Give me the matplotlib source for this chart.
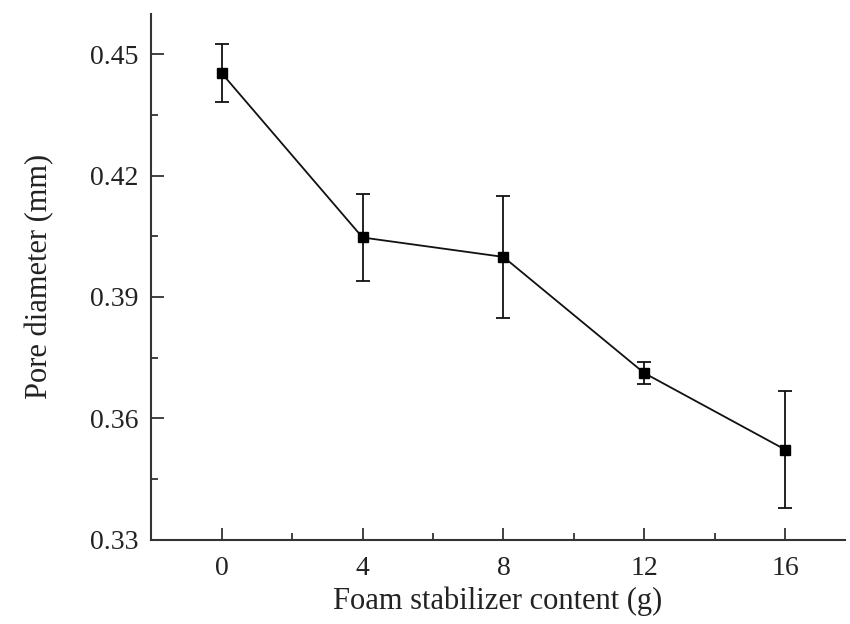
import numpy as np
import matplotlib.pyplot as plt
from matplotlib.ticker import MultipleLocator

content = [0, 4, 8, 12, 16]
pore_diameter = [0.4453, 0.4047, 0.3999, 0.3712, 0.3523]
pore_err = [0.0071, 0.0107, 0.0151, 0.0028, 0.0145]

plt.rcParams['font.family'] = ['Liberation Serif', 'DejaVu Serif']

fig = plt.figure(figsize=(8.5, 6.24), dpi=100)
ax = fig.add_axes([0.178, 0.135, 0.816, 0.843])

ax.errorbar(content, pore_diameter, yerr=pore_err, color='#111111', lw=1.3,
            marker='s', ms=7, mfc='black', mec='black',
            elinewidth=1.3, capsize=5, capthick=1.3)

ax.set_xlim(-2, 17.7)
ax.set_ylim(0.33, 0.46)
ax.set_xticks(content)
ax.set_yticks([0.33, 0.36, 0.39, 0.42, 0.45])
ax.xaxis.set_minor_locator(MultipleLocator(2))
ax.yaxis.set_minor_locator(MultipleLocator(0.015))
ax.set_yticklabels(['0.33', '0.36', '0.39', '0.42', '0.45'])

for s in ['top', 'right']:
    ax.spines[s].set_visible(False)
for s in ['left', 'bottom']:
    ax.spines[s].set_linewidth(1.5)
    ax.spines[s].set_color('#333333')

ax.tick_params(which='major', direction='in', length=9, width=1.3,
               labelsize=20, colors='#333333', labelcolor='#222222')
ax.tick_params(which='minor', direction='in', length=5, width=1.3, colors='#333333')
ax.tick_params(axis='x', which='major', pad=12)
ax.tick_params(axis='y', which='major', pad=9)

ax.set_xlabel('Foam stabilizer content (g)', fontsize=22, color='#222222', labelpad=4)
ax.set_ylabel('Pore diameter (mm)', fontsize=22, color='#222222', labelpad=26)

fig.savefig('out.png', dpi=100)
